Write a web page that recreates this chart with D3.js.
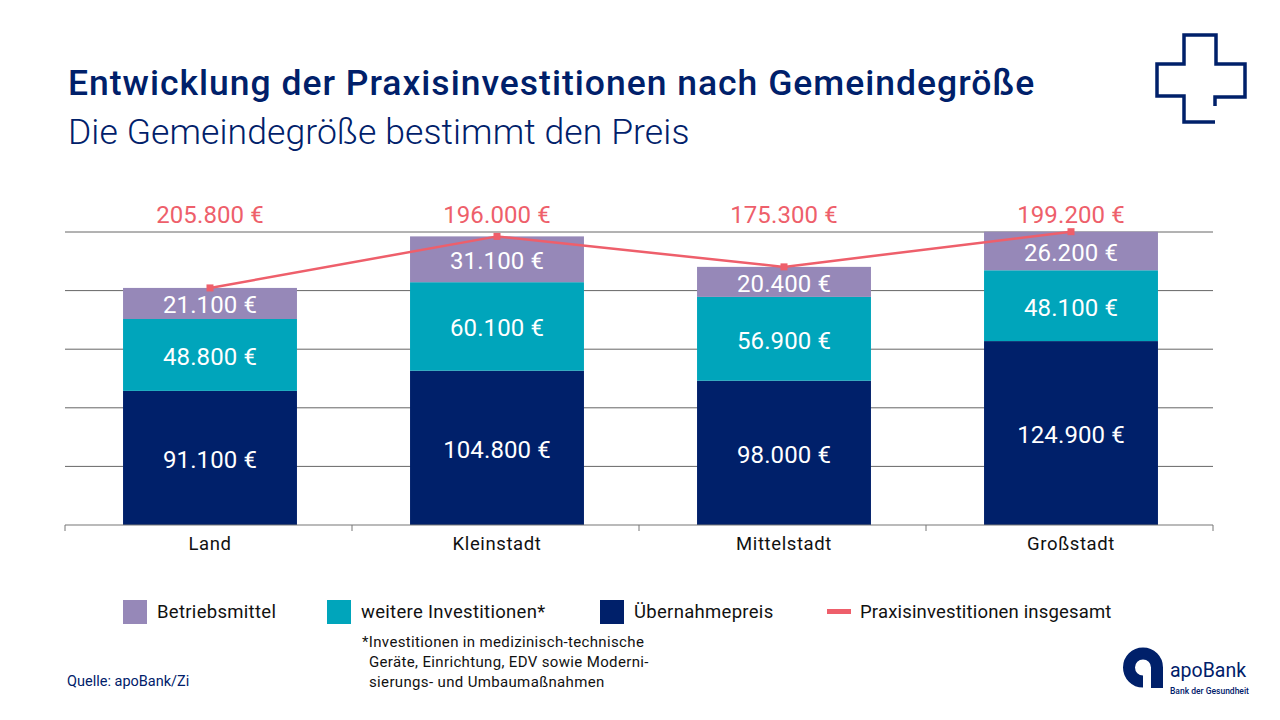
<!DOCTYPE html>
<html>
<head>
<meta charset="utf-8">
<script src="https://cdn.jsdelivr.net/npm/d3@7"></script>
<style>
  html, body { margin: 0; padding: 0; background: #fff; }
  svg { display: block; }
  text { font-family: Roboto, sans-serif; }
</style>
</head>
<body>
<div id="chart"></div>
<script>
// Chart values
const categories = ["Land", "Kleinstadt", "Mittelstadt", "Großstadt"];
const uebernahmepreis = [91100, 104800, 98000, 124900];
const weitere = [48800, 60100, 56900, 48100];
const betriebsmittel = [21100, 31100, 20400, 26200];
// the line follows the stack tops, the printed totals are as in the picture
const lineValues = [161000, 196000, 175300, 199200];
const totalLabels = [205800, 196000, 175300, 199200];
const yTicks = [0, 40000, 80000, 120000, 160000, 200000];
const legendNames = ["Betriebsmittel", "weitere Investitionen*", "Übernahmepreis", "Praxisinvestitionen insgesamt"];
const footnote = [
  "*Investitionen in medizinisch-technische",
  "Geräte, Einrichtung, EDV sowie Moderni-",
  "sierungs- und Umbaumaßnahmen"
];

const navy = "#00206a";
const teal = "#00a5bb";
const purple = "#9688b8";
const red = "#ee5f6b";

const width = 1280;
const height = 720;

const svg = d3.select("#chart")
  .append("svg")
  .attr("width", width)
  .attr("height", height);

const fmt = v => d3.format(",")(v).replace(/,/g, ".") + " €";

// Scales
const x = d3.scaleBand()
  .domain(categories)
  .range([66.5, 1214.5])
  .paddingInner(0.394)
  .paddingOuter(0.197);

const y = d3.scaleLinear()
  .domain([0, 200000])
  .range([525, 230.5]);

// grid sits slightly off the bar scale in the original
const yGrid = d3.scaleLinear()
  .domain([0, 200000])
  .range([525, 232]);

// Title
svg.append("text")
  .attr("x", 68)
  .attr("y", 95)
  .attr("font-size", 35.5)
  .attr("font-weight", 500)
  .attr("letter-spacing", 0.99)
  .attr("fill", navy)
  .text("Entwicklung der Praxisinvestitionen nach Gemeindegröße");

svg.append("text")
  .attr("x", 68)
  .attr("y", 144)
  .attr("font-size", 35.5)
  .attr("font-weight", 300)
  .attr("letter-spacing", 0.1)
  .attr("fill", navy)
  .text("Die Gemeindegröße bestimmt den Preis");

// Grid lines
svg.append("g")
  .selectAll("line")
  .data(yTicks.slice(1))
  .join("line")
  .attr("x1", 65)
  .attr("x2", 1213)
  .attr("y1", d => yGrid(d))
  .attr("y2", d => yGrid(d))
  .attr("stroke", "#666")
  .attr("stroke-width", 1);

// Stacked bars
const rows = categories.map((c, i) => ({
  category: c,
  uebernahmepreis: uebernahmepreis[i],
  weitere: weitere[i],
  betriebsmittel: betriebsmittel[i]
}));
const stack = d3.stack().keys(["uebernahmepreis", "weitere", "betriebsmittel"]);
const colors = { uebernahmepreis: navy, weitere: teal, betriebsmittel: purple };

const layers = svg.append("g")
  .selectAll("g")
  .data(stack(rows))
  .join("g")
  .attr("fill", d => colors[d.key]);

layers.selectAll("rect")
  .data(d => d)
  .join("rect")
  .attr("x", d => x(d.data.category))
  .attr("width", x.bandwidth())
  .attr("y", d => y(d[1]))
  .attr("height", d => y(d[0]) - y(d[1]));

layers.selectAll("text")
  .data(d => d.map(s => ({ s, key: d.key })))
  .join("text")
  .attr("x", d => x(d.s.data.category) + x.bandwidth() / 2)
  .attr("y", d => (y(d.s[0]) + y(d.s[1])) / 2 + 10)
  .attr("text-anchor", "middle")
  .attr("font-size", 24)
  .attr("letter-spacing", 0.1)
  .attr("fill", "#fff")
  .text(d => fmt(d.s.data[d.key]));

// Axis
const axis = svg.append("g")
  .attr("transform", "translate(0,525)")
  .call(d3.axisBottom(x).tickSize(0).tickPadding(12));
axis.select(".domain").remove();
axis.selectAll("text")
  .attr("font-size", 18.5)
  .attr("letter-spacing", 0.6)
  .attr("fill", "#111")
  .style("font-family", "Roboto, sans-serif");

const edges = d3.range(5).map(i => 65 + i * x.step());
svg.append("line")
  .attr("x1", 65).attr("x2", 1213)
  .attr("y1", 525).attr("y2", 525)
  .attr("stroke", "#777").attr("stroke-width", 1.2);
svg.append("g")
  .selectAll("line")
  .data(edges)
  .join("line")
  .attr("x1", d => d).attr("x2", d => d)
  .attr("y1", 525).attr("y2", 531)
  .attr("stroke", "#777");

// Total line
const lineData = categories.map((c, i) => ({ category: c, value: lineValues[i], label: totalLabels[i] }));
const cx = d => x(d.category) + x.bandwidth() / 2;

svg.append("path")
  .datum(lineData)
  .attr("fill", "none")
  .attr("stroke", red)
  .attr("stroke-width", 2.5)
  .attr("d", d3.line().x(cx).y(d => y(d.value)));

svg.append("g")
  .selectAll("rect")
  .data(lineData)
  .join("rect")
  .attr("x", d => cx(d) - 3.5)
  .attr("y", d => y(d.value) - 3.5)
  .attr("width", 7)
  .attr("height", 7)
  .attr("fill", red);

svg.append("g")
  .selectAll("text")
  .data(lineData)
  .join("text")
  .attr("x", cx)
  .attr("y", 223)
  .attr("text-anchor", "middle")
  .attr("font-size", 24)
  .attr("letter-spacing", 0.1)
  .attr("fill", red)
  .text(d => fmt(d.label));

// Legend
const legendX = [123, 327, 600, 827];
const legendColors = [purple, teal, navy, red];
const legend = svg.append("g")
  .selectAll("g")
  .data(legendNames)
  .join("g")
  .attr("transform", (_, i) => `translate(${legendX[i]},600)`);

legend.append("rect")
  .attr("width", 24)
  .attr("y", (_, i) => i === 3 ? 9 : 0)
  .attr("height", (_, i) => i === 3 ? 5 : 24)
  .attr("fill", (_, i) => legendColors[i]);

legend.append("text")
  .attr("x", (_, i) => i === 3 ? 33 : 34)
  .attr("y", 18)
  .attr("font-size", 18.5)
  .attr("letter-spacing", (_, i) => i === 3 ? 0.17 : 0.3)
  .attr("fill", "#111")
  .text(d => d);

// Footnote
svg.append("g")
  .selectAll("text")
  .data(footnote)
  .join("text")
  .attr("x", (_, i) => i === 0 ? 362 : 369)
  .attr("y", (_, i) => 647 + i * 20)
  .attr("font-size", 15)
  .attr("letter-spacing", 0.35)
  .attr("fill", "#111")
  .text(d => d);

// Source
svg.append("text")
  .attr("x", 67)
  .attr("y", 686)
  .attr("font-size", 14.5)
  .attr("fill", navy)
  .text("Quelle: apoBank/Zi");

// Cross icon
svg.append("path")
  .attr("d", "M1215 106V97H1245V64H1216V35H1184V64H1157V96H1184V122H1215")
  .attr("fill", "none")
  .attr("stroke", navy)
  .attr("stroke-width", 3.5);

// Logo
svg.append("path")
  .attr("fill", "none")
  .attr("stroke", navy)
  .attr("stroke-width", 12)
  .attr("d", "M1157 688V667.5A14 14 0 1 0 1143 681.5");

svg.append("text")
  .attr("x", 1170)
  .attr("y", 677)
  .attr("font-size", 19.5)
  .attr("fill", navy)
  .text("apoBank");

svg.append("text")
  .attr("x", 1170)
  .attr("y", 694)
  .attr("font-size", 8.5)
  .attr("font-weight", 500)
  .attr("fill", navy)
  .text("Bank der Gesundheit");
</script>
</body>
</html>
